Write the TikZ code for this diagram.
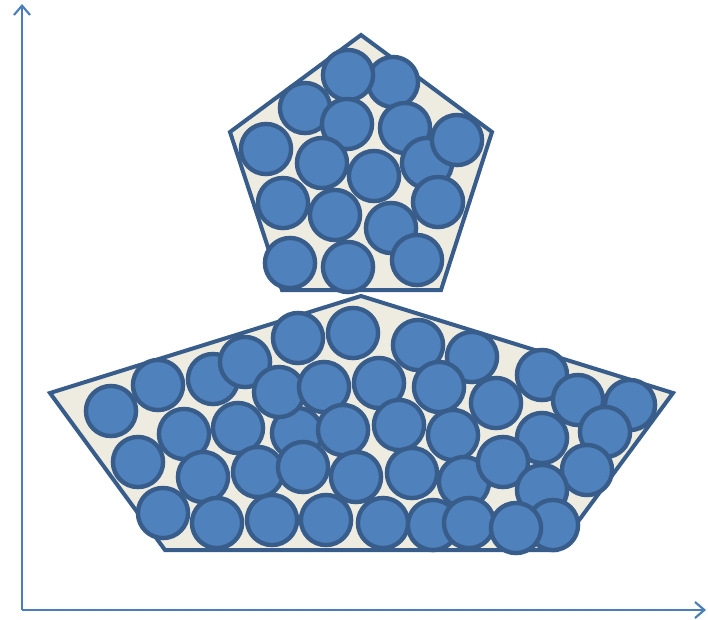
\documentclass[tikz,border=0pt]{standalone}
\usepackage{tikz}
\definecolor{kugelblau}{RGB}{79,129,189}
\definecolor{kugelrand}{RGB}{56,93,138}
\definecolor{flaeche}{RGB}{238,236,225}
\definecolor{achsblau}{RGB}{74,126,187}
\usetikzlibrary{arrows.meta}

\begin{document}
\begin{tikzpicture}[x=0.75pt, y=-0.75pt,
				>={Straight Barb[length=7pt,width=12pt]},   %Voreinstellung für Pfeilspitzen
				kugel/.style={draw=kugelrand, fill=kugelblau, line width=3.3pt},
				koerper/.style={draw=kugelrand, fill=flaeche, line width=3pt, line join=miter},
				achse/.style={->, draw=achsblau, line width=1.6pt}]
				\useasboundingbox (0,0) rectangle (708,619);
				% Achsen zeichnen
				\coordinate (ursprung) at (22,610);
				\coordinate (xende) at (706,610);
				\coordinate (yende) at (22,4);
				\draw[achse] (ursprung) -- (xende);
				\draw[achse] (ursprung) -- (yende);
				% Fuenfeck
				\draw[koerper] (361,35) -- (492,132) -- (441,290) -- (282,290) -- (230,132) -- cycle;
				\foreach \x/\y in {393/82, 348/75, 305/108, 405/128, 347/124, 427/163, 457/140,
					266/149, 322/163, 374/176, 283/203, 335/215, 438/202, 391/228,
					290/263, 348/267, 417/260}
					\draw[kugel] (\x,\y) circle [radius=18.8pt];
				% Sechseck
				\draw[koerper] (50,393) -- (361,296) -- (673,393) -- (557,550) -- (165,550) -- cycle;
				\foreach \x/\y in {297/433, 111/411, 158/385, 213/379, 245/362, 298/338, 353/333,
					418/345, 472/357, 279/392, 324/387, 379/383, 439/387, 496/403,
					542/375, 578/400, 630/405, 605/432, 138/462, 184/434, 238/428,
					343/430, 399/425, 453/435, 542/438, 203/477, 258/472, 303/467,
					356/477, 412/473, 464/482, 503/462, 587/470, 542/490,
					163/513, 217/523, 272/520, 326/520, 383/523, 433/525, 553/525,
					469/523, 516/528}
					\draw[kugel] (\x,\y) circle [radius=18.8pt];
			\end{tikzpicture}
\end{document}
